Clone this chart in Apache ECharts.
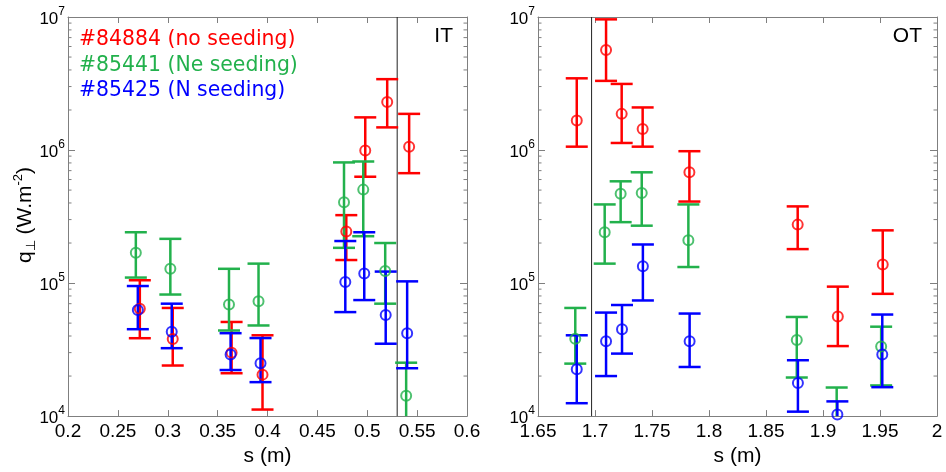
<!DOCTYPE html>
<html>
<head>
<meta charset="utf-8">
<script src="https://cdn.jsdelivr.net/npm/echarts@6/dist/echarts.min.js"></script>
<style>
html,body{margin:0;padding:0;background:#fff;}
#chart{width:946px;height:472px;}
</style>
</head>
<body>
<div id="chart"></div>
<script>
// ---------- DATA ----------
// Left panel (IT)
const itRedS  = [0.272, 0.305, 0.364, 0.395, 0.479, 0.498, 0.520, 0.542];
const itRedQ  = [6.4e4, 3.8e4, 3.0e4, 2.05e4, 2.44e5, 9.9e5, 2.3e6, 1.06e6];
const itRedHi = [1.05e5, 6.5e4, 5.1e4, 4.05e4, 3.24e5, 1.76e6, 3.41e6, 1.87e6];
const itRedLo = [3.85e4, 2.4e4, 2.1e4, 1.12e4, 1.49e5, 6.3e5, 1.48e6, 6.7e5];

const itGreenS  = [0.268, 0.3026, 0.3614, 0.391, 0.4767, 0.496, 0.518, 0.539];
const itGreenQ  = [1.69e5, 1.28e5, 6.9e4, 7.3e4, 4.05e5, 5.04e5, 1.23e5, 1.42e4];
const itGreenHi = [2.41e5, 2.15e5, 1.28e5, 1.4e5, 8.07e5, 8.2e5, 2.0e5, 2.52e4];
const itGreenLo = [1.1e5, 8.2e4, 4.4e4, 4.8e4, 1.84e5, 2.25e5, 7.0e4, 8e3];

const itBlueS  = [0.270, 0.304, 0.363, 0.393, 0.478, 0.497, 0.5185, 0.540];
const itBlueQ  = [6.27e4, 4.3e4, 2.9e4, 2.5e4, 1.02e5, 1.18e5, 5.75e4, 4.19e4];
const itBlueHi = [9.5e4, 7.0e4, 4.2e4, 3.86e4, 2.07e5, 2.41e5, 1.22e5, 1.03e5];
const itBlueLo = [4.5e4, 3.24e4, 2.22e4, 1.8e4, 6.05e4, 7.45e4, 3.5e4, 2.29e4];

// Right panel (OT)
const otRedS  = [1.684, 1.7097, 1.7234, 1.7418, 1.7828, 1.8778, 1.913, 1.9524];
const otRedQ  = [1.67e6, 5.65e6, 1.87e6, 1.44e6, 6.8e5, 2.75e5, 5.6e4, 1.38e5];
const otRedHi = [3.46e6, 9.6e6, 3.14e6, 2.09e6, 9.8e5, 3.77e5, 9.4e4, 2.49e5];
const otRedLo = [1.06e6, 3.31e6, 1.13e6, 1.06e6, 4.1e5, 1.8e5, 3.36e4, 8.3e4];

const otGreenS  = [1.6827, 1.7085, 1.7225, 1.741, 1.7819, 1.877, 1.912, 1.951];
const otGreenQ  = [3.82e4, 2.41e5, 4.7e5, 4.75e5, 2.1e5, 3.73e4, 9.5e3, 3.33e4];
const otGreenHi = [6.5e4, 3.9e5, 5.82e5, 6.8e5, 3.9e5, 5.56e4, 1.64e4, 4.7e4];
const otGreenLo = [2.48e4, 1.4e5, 2.87e5, 2.7e5, 1.32e5, 1.95e4, 6e3, 1.7e4];

const otBlueS  = [1.684, 1.7097, 1.7237, 1.742, 1.783, 1.878, 1.9126, 1.952];
const otBlueQ  = [2.25e4, 3.65e4, 4.5e4, 1.34e5, 3.65e4, 1.77e4, 1.03e4, 2.9e4];
const otBlueHi = [4.05e4, 6.0e4, 6.84e4, 1.95e5, 5.9e4, 2.63e4, 1.29e4, 5.8e4];
const otBlueLo = [1.25e4, 2.0e4, 2.95e4, 7.4e4, 2.34e4, 1.08e4, 7e3, 1.65e4];

// separatrix positions
const sepIT = 0.530;
const sepOT = 1.697;

// axis ranges / ticks
const itXRange = [0.2, 0.6];
const otXRange = [1.65, 2.0];
const xStep = 0.05;
const qRange = [1e4, 1e7];
const minorMult = [2, 3, 4, 5, 6, 7, 8, 9];
const minorDecades = [1e4, 1e5, 1e6];

const legendTexts = ['#84884 (no seeding)', '#85441 (Ne seeding)', '#85425 (N seeding)'];
const panelTags = ['IT', 'OT'];

// ---------- STYLE ----------
const RED = '#ff0000', GREEN = '#22b14c', BLUE = '#0000ff';
const FONT = '"Liberation Sans", Arial, sans-serif';
const AXC = '#7f7f7f';

const chart = echarts.init(document.getElementById('chart'));

function errRender(color) {
  return function (params, api) {
    const cs = params.coordSys;
    const x = api.value(0), lo = api.value(1), hi = api.value(2);
    let p1 = api.coord([x, hi]);
    let p2 = api.coord([x, lo]);
    const top = cs.y, bot = cs.y + cs.height;
    const w = 11;
    const st = { stroke: color, lineWidth: 2.5 };
    const ch = [];
    const y1 = Math.max(top, Math.min(bot, p1[1]));
    const y2 = Math.max(top, Math.min(bot, p2[1]));
    ch.push({ type: 'line', shape: { x1: p1[0], y1: y1, x2: p2[0], y2: y2 }, style: st });
    if (p1[1] >= top && p1[1] <= bot) ch.push({ type: 'line', shape: { x1: p1[0] - w, y1: p1[1], x2: p1[0] + w, y2: p1[1] }, style: st });
    if (p2[1] >= top && p2[1] <= bot) ch.push({ type: 'line', shape: { x1: p2[0] - w, y1: p2[1], x2: p2[0] + w, y2: p2[1] }, style: st });
    return { type: 'group', children: ch };
  };
}

const minorVals = [];
minorDecades.forEach(d => minorMult.forEach(m => minorVals.push(d * m)));

function minorRender(params, api) {
  const cs = params.coordSys;
  const y = api.coord([api.value(0), api.value(1)])[1];
  const st = { stroke: AXC, lineWidth: 1 };
  return { type: 'group', children: [
    { type: 'line', shape: { x1: cs.x, y1: y, x2: cs.x + 3.5, y2: y }, style: st },
    { type: 'line', shape: { x1: cs.x + cs.width, y1: y, x2: cs.x + cs.width - 3.5, y2: y }, style: st }
  ]};
}

const panels = [
  { grid: 0, xr: itXRange, sep: sepIT, groups: [
    [RED, itRedS, itRedQ, itRedLo, itRedHi],
    [GREEN, itGreenS, itGreenQ, itGreenLo, itGreenHi],
    [BLUE, itBlueS, itBlueQ, itBlueLo, itBlueHi]] },
  { grid: 1, xr: otXRange, sep: sepOT, groups: [
    [RED, otRedS, otRedQ, otRedLo, otRedHi],
    [GREEN, otGreenS, otGreenQ, otGreenLo, otGreenHi],
    [BLUE, otBlueS, otBlueQ, otBlueLo, otBlueHi]] }
];

const series = [];
panels.forEach(p => {
  // minor log ticks
  series.push({
    type: 'custom', xAxisIndex: p.grid, yAxisIndex: p.grid, silent: true,
    renderItem: minorRender,
    data: minorVals.map(v => [(p.xr[0] + p.xr[1]) / 2, v]),
    encode: { x: 0, y: 1 }, z: 1
  });
  // separatrix
  series.push({
    type: 'custom', xAxisIndex: p.grid, yAxisIndex: p.grid, silent: true,
    renderItem: function (params, api) {
      const cs = params.coordSys;
      const x = api.coord([api.value(0), qRange[0]])[0];
      return { type: 'line', shape: { x1: x, y1: cs.y, x2: x, y2: cs.y + cs.height }, style: { stroke: '#222', lineWidth: 1 } };
    },
    data: [[p.sep, qRange[0]]], encode: { x: 0, y: 1 }, z: 2
  });
  p.groups.forEach(g => {
    const [color, s, q, lo, hi] = g;
    series.push({
      type: 'custom', xAxisIndex: p.grid, yAxisIndex: p.grid, silent: true,
      renderItem: errRender(color),
      data: s.map((v, i) => [v, lo[i], hi[i]]),
      encode: { x: 0, y: [1, 2] }, z: 3
    });
    series.push({
      type: 'scatter', xAxisIndex: p.grid, yAxisIndex: p.grid, silent: true,
      symbol: 'circle', symbolSize: 10, clip: true,
      itemStyle: { color: 'rgba(0,0,0,0)', borderColor: color, borderWidth: 2 },
      data: s.map((v, i) => [v, q[i]]), z: 3
    });
  });
});

function xAxisCfg(grid, r, pos, labels) {
  return {
    type: 'value', gridIndex: grid, position: pos, min: r[0], max: r[1], interval: xStep,
    axisLine: { show: true, onZero: false, lineStyle: { color: AXC, width: 1 } },
    axisTick: { show: true, inside: true, length: 6, lineStyle: { color: AXC } },
    splitLine: { show: false },
    axisLabel: labels ? {
      show: true, color: '#000', fontSize: 19, fontFamily: FONT, margin: 6,
      showMinLabel: true, showMaxLabel: true,
      formatter: v => String(Math.round(v * 100) / 100)
    } : { show: false },
    name: labels ? 's (m)' : '', nameLocation: 'middle', nameGap: 27,
    nameTextStyle: { color: '#000', fontSize: 21, fontFamily: FONT }
  };
}

function yAxisCfg(grid, pos, labels) {
  return {
    type: 'log', logBase: 10, gridIndex: grid, position: pos, min: qRange[0], max: qRange[1],
    axisLine: { show: true, lineStyle: { color: AXC, width: 1 } },
    axisTick: { show: true, inside: true, length: 7, lineStyle: { color: AXC } },
    splitLine: { show: false }, minorTick: { show: false },
    axisLabel: labels ? {
      show: true, margin: 3, padding: [4, 0, 0, 0],
      formatter: v => '{b|10}{s|' + Math.round(Math.log10(v)) + '}',
      rich: {
        b: { fontSize: 17, fontFamily: FONT, color: '#000', lineHeight: 26 },
        s: { fontSize: 12, fontFamily: FONT, color: '#000', lineHeight: 12, verticalAlign: 'top' }
      }
    } : { show: false }
  };
}

const legendYs = [40, 65.5, 91];
const legendColors = [RED, GREEN, BLUE];
const graphic = legendTexts.map((t, i) => ({
  type: 'text', x: 79, y: legendYs[i], silent: true,
  style: { text: t, fill: legendColors[i], fontSize: 20.4, fontFamily: '"DejaVu Sans", Verdana, sans-serif', verticalAlign: 'middle', align: 'left' }
}));
graphic.push({ type: 'text', x: 453, y: 36, silent: true,
  style: { text: panelTags[0], fill: '#000', fontSize: 21, fontFamily: FONT, align: 'right', verticalAlign: 'middle' } });
graphic.push({ type: 'text', x: 922, y: 36, silent: true,
  style: { text: panelTags[1], fill: '#000', fontSize: 21, fontFamily: FONT, align: 'right', verticalAlign: 'middle' } });
graphic.push({ type: 'text', x: 25, y: 215, rotation: Math.PI / 2, silent: true,
  style: {
    text: '{q|q}{sub|⊥}{n| (W.m}{sup|-2}{n|)}', align: 'center', verticalAlign: 'middle',
    rich: {
      q: { fontSize: 21, fontFamily: FONT, fill: '#000', lineHeight: 26 },
      n: { fontSize: 21, fontFamily: FONT, fill: '#000', lineHeight: 26 },
      sub: { fontSize: 13, fontFamily: FONT, fill: '#000', lineHeight: 13, verticalAlign: 'bottom' },
      sup: { fontSize: 13, fontFamily: FONT, fill: '#000', lineHeight: 13, verticalAlign: 'top' }
    }
  } });

chart.setOption({
  animation: false,
  backgroundColor: '#fff',
  grid: [
    { left: 68, right: 479, top: 17, bottom: 55 },
    { left: 538, right: 9, top: 17, bottom: 55 }
  ],
  xAxis: [
    xAxisCfg(0, itXRange, 'bottom', true),
    xAxisCfg(1, otXRange, 'bottom', true),
    xAxisCfg(0, itXRange, 'top', false),
    xAxisCfg(1, otXRange, 'top', false)
  ],
  yAxis: [
    yAxisCfg(0, 'left', true),
    yAxisCfg(1, 'left', true),
    yAxisCfg(0, 'right', false),
    yAxisCfg(1, 'right', false)
  ],
  graphic: graphic,
  series: series
});
</script>
</body>
</html>
